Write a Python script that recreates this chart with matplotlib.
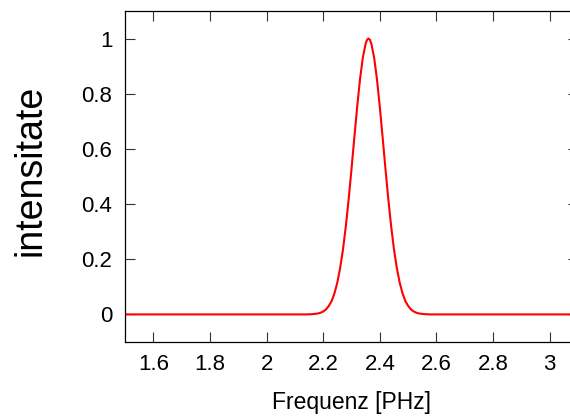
import numpy as np
import matplotlib
matplotlib.use("Agg")
from matplotlib import pyplot as plt

plt.rcParams['font.family'] = ['Liberation Sans', 'DejaVu Sans']

# frequency [PHz] and normalised intensity
freq = [1.50, 2.14, 2.16, 2.18, 2.19, 2.20, 2.21, 2.22, 2.23, 2.24, 2.25, 2.26,
        2.27, 2.28, 2.29, 2.30, 2.31, 2.32, 2.33, 2.34, 2.35, 2.355, 2.36, 2.365, 2.37, 2.38,
        2.39, 2.40, 2.41, 2.42, 2.43, 2.44, 2.45, 2.46, 2.47, 2.48, 2.49, 2.50,
        2.51, 2.52, 2.53, 2.54, 2.56, 2.58, 3.10]
inten = [0.0, 0.0, 0.0008, 0.0031, 0.0058, 0.0105, 0.018, 0.031, 0.049, 0.077, 0.116, 0.169,
         0.236, 0.320, 0.418, 0.527, 0.641, 0.752, 0.852, 0.931, 0.982, 0.996, 1.0, 0.996, 0.982, 0.931,
         0.852, 0.752, 0.641, 0.527, 0.418, 0.320, 0.236, 0.169, 0.116, 0.077, 0.049, 0.031,
         0.018, 0.0105, 0.0058, 0.0031, 0.0008, 0.0, 0.0]

xticks = [1.6, 1.8, 2.0, 2.2, 2.4, 2.6, 2.8, 3.0]
xticklabels = ["1.6", "1.8", "2", "2.2", "2.4", "2.6", "2.8", "3"]
yticks = [0, 0.2, 0.4, 0.6, 0.8, 1.0]
yticklabels = ["0", "0.2", "0.4", "0.6", "0.8", "1"]

fig = plt.figure(figsize=(5.7, 4.16), dpi=100)
ax = fig.add_axes([125/570, 74/416, 453/570, 331/416])

ax.plot(freq, inten, color="red", lw=1.5)

ax.set_xlim(1.5, 3.10)
ax.set_ylim(-0.1, 1.1)
ax.set_xticks(xticks)
ax.set_xticklabels(xticklabels)
ax.set_yticks(yticks)
ax.set_yticklabels(yticklabels)
ax.tick_params(direction="in", length=7.5, width=0.8, top=True, right=True,
               labelsize=16, pad=9, color="#333333")
for s in ax.spines.values():
    s.set_linewidth(0.9)

ax.set_xlabel("Frequenz [PHz]", fontsize=16.5)
ax.xaxis.set_label_coords(0.5, -0.148)
ax.xaxis.label.set_va("top")
ax.set_ylabel("intensitate", fontsize=27)
ax.yaxis.set_label_coords(-0.168, 0.52)

fig.savefig("out.png", dpi=100)
